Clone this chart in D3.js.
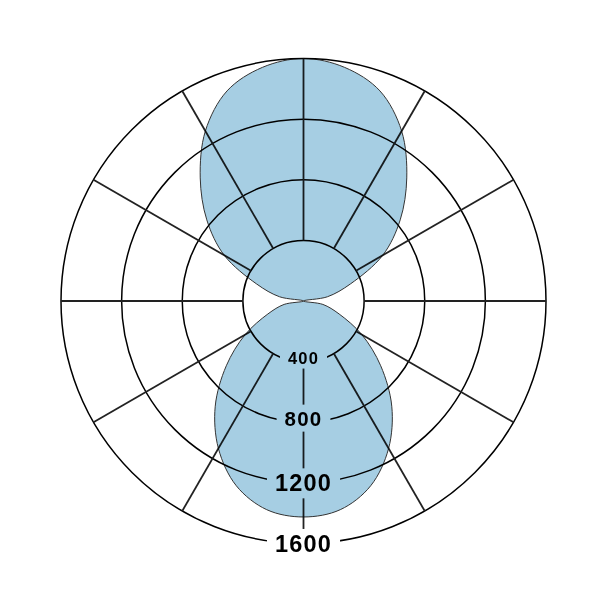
<!DOCTYPE html>
<html>
<head>
<meta charset="utf-8">
<script src="https://cdn.jsdelivr.net/npm/d3@7"></script>
<style>
  body { margin: 0; background: #fff; }
</style>
</head>
<body>
<script>
// angle in degrees, clockwise from north
var angles = [0, 10, 20, 30, 40, 50, 60, 70, 80, 90, 100, 110, 120, 130, 140, 150, 160, 170,
              180, 190, 200, 210, 220, 230, 240, 250, 260, 270, 280, 290, 300, 310, 320, 330, 340, 350];
var values = [1600, 1565, 1475, 1295, 1060, 833, 604, 330, 160, 0, 130, 250, 445, 665, 906, 1123, 1297, 1398,
              1425, 1398, 1297, 1123, 906, 665, 445, 250, 130, 0, 160, 330, 604, 833, 1060, 1295, 1475, 1565];
var ringTicks = [400, 800, 1200, 1600];
var spokeAngles = [0, 30, 60, 90, 120, 150, 180, 210, 240, 270, 300, 330];

var width = 601, height = 601;
var cx = 303.5, cy = 301;
var rad = Math.PI / 180;

var r = d3.scaleLinear().domain([0, 1600]).range([0, 242.5]);

var svg = d3.select('body').append('svg')
    .attr('width', width)
    .attr('height', height);

var g = svg.append('g')
    .attr('transform', 'translate(' + cx + ',' + cy + ')');

// rings
g.selectAll('circle.ring')
    .data(ringTicks)
    .enter()
    .append('circle')
    .attr('class', 'ring')
    .attr('r', d => r(d))
    .attr('fill', 'none')
    .attr('stroke', '#000')
    .attr('stroke-width', 1.5);

// spokes, from the first ring out
g.selectAll('line.spoke')
    .data(spokeAngles)
    .enter()
    .append('line')
    .attr('class', 'spoke')
    .attr('x1', d => r(ringTicks[0]) * Math.sin(d * rad))
    .attr('y1', d => -r(ringTicks[0]) * Math.cos(d * rad))
    .attr('x2', d => r(ringTicks[ringTicks.length - 1]) * Math.sin(d * rad))
    .attr('y2', d => -r(ringTicks[ringTicks.length - 1]) * Math.cos(d * rad))
    .attr('stroke', '#222')
    .attr('stroke-width', 1.8);

// tick labels down the south axis, white box behind
var fontSize = d => Math.min(23.5, 12.5 + d / 100);

var label = g.selectAll('g.label')
    .data(ringTicks)
    .enter()
    .append('g')
    .attr('class', 'label');

label.append('text')
    .attr('x', 0)
    .attr('y', function (d) {
        // small inner labels sit a little above their ring
        return r(d) + fontSize(d) * 0.36 - (d < 1000 ? 4 : 0);
    })
    .attr('text-anchor', 'middle')
    .attr('font-family', '"Liberation Sans", Arial, sans-serif')
    .attr('font-weight', 'bold')
    .attr('font-size', d => fontSize(d) + 'px')
    .style('letter-spacing', '1.2px')
    .attr('fill', '#000')
    .text(d => d);

label.each(function () {
    var t = d3.select(this).select('text');
    var b = t.node().getBBox();
    d3.select(this).insert('rect', 'text')
        .attr('x', b.x - 8)
        .attr('y', b.y - 2)
        .attr('width', b.width + 16)
        .attr('height', b.height + 4)
        .attr('fill', '#fff');
});

// the pattern itself
var line = d3.lineRadial()
    .angle((d, i) => angles[i] * rad)
    .radius(d => r(d))
    .curve(d3.curveCatmullRomClosed.alpha(0.5));

g.append('path')
    .datum(values)
    .attr('d', line)
    .attr('fill', '#a6cee3')
    .attr('stroke', '#333')
    .attr('stroke-width', 1)
    .style('mix-blend-mode', 'multiply');
</script>
</body>
</html>
